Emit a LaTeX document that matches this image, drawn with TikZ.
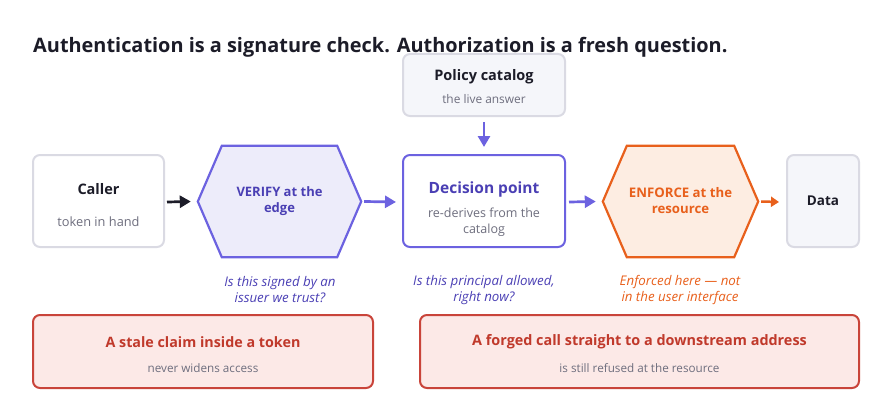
\documentclass[tikz,border=0pt]{standalone}
\usepackage{fontspec}
\setmainfont{Open Sans}
\usetikzlibrary{arrows.meta,calc}
\definecolor{ink}{HTML}{1C1C28}
\definecolor{muted}{HTML}{6E6E7E}
\definecolor{graybd}{HTML}{DADAE3}
\definecolor{grayfill}{HTML}{F5F6FA}
\definecolor{purp}{HTML}{6C62E0}
\definecolor{purptext}{HTML}{4A3FB4}
\definecolor{purpfill}{HTML}{EDECFA}
\definecolor{orng}{HTML}{E8601C}
\definecolor{orngfill}{HTML}{FDEDE2}
\definecolor{redbd}{HTML}{C9443A}
\definecolor{redfill}{HTML}{FCE9E7}
\definecolor{redtext}{HTML}{C0392B}
\tikzset{
  card/.style={draw=graybd, line width=2pt, rounded corners=7pt, fill=white},
  hexbox/.style={minimum width=163pt, minimum height=111pt, inner sep=0pt},
  warnbox/.style={draw=redbd, fill=redfill, line width=2pt, rounded corners=7pt},
  flow/.style={line width=2.7pt, -{Triangle[length=11pt,width=12pt]}},
  ttl/.style={font=\bfseries\fontsize{14.5}{17}\selectfont},
  sub/.style={font=\fontsize{12.8}{16}\selectfont, text=muted, align=center},
  note/.style={font=\itshape\fontsize{13.3}{16}\selectfont, align=center},
}
\begin{document}
\begin{tikzpicture}[x=1pt,y=-1pt]
\useasboundingbox (0,0) rectangle (892,412);
% title
\node[anchor=base west, inner sep=0pt, text=ink, font=\bfseries\fontsize{19.9}{23}\selectfont] (title) at (33,53) {Authentication is a signature check. Authorization is a fresh question.};

% caller
\draw[card] (33,155) rectangle (164,247);
\node[ttl, text=ink] (callerT) at (98.5,189) {Caller};
\node[sub] (callerS) at (98.5,222) {token in hand};
\coordinate (caller) at (164,202);

% verify hexagon
\node[hexbox] (verify) at (279.5,201.5) {};
\fill[purpfill, draw=purp, line width=2.2pt, line join=miter]
  (verify.west) -- ($(verify.north west)+(24,0)$) -- ($(verify.north east)+(-24,0)$) -- (verify.east)
  -- ($(verify.south east)+(-24,0)$) -- ($(verify.south west)+(24,0)$) -- cycle;
\node[font=\bfseries\fontsize{13}{16}\selectfont, text=purptext, align=center] (verifyT) at (279.5,201) {VERIFY at the\\edge};

% decision point
\draw[card, draw=purp] (403,155) rectangle (565,247);
\node[font=\bfseries\fontsize{15.5}{18}\selectfont, text=purptext] (decT) at (484,189) {Decision point};
\node[sub, font=\fontsize{12.5}{16}\selectfont] (decS) at (484,222) {re-derives from the\\catalog};
\coordinate (decW) at (403,202);
\coordinate (decE) at (565,202);
\coordinate (decN) at (484,155);

% policy catalog
\draw[card, fill=grayfill] (403,54) rectangle (565,116);
\node[font=\bfseries\fontsize{14.5}{17}\selectfont, text=ink] (polT) at (484,77) {Policy catalog};
\node[sub, font=\fontsize{11.9}{14}\selectfont] (polS) at (484,99) {the live answer};
\coordinate (polS0) at (484,116);

% enforce hexagon
\node[hexbox, minimum width=155pt] (enforce) at (680.5,201.5) {};
\fill[orngfill, draw=orng, line width=2.2pt, line join=miter]
  (enforce.west) -- ($(enforce.north west)+(24,0)$) -- ($(enforce.north east)+(-24,0)$) -- (enforce.east)
  -- ($(enforce.south east)+(-24,0)$) -- ($(enforce.south west)+(24,0)$) -- cycle;
\node[font=\bfseries\fontsize{13.2}{16}\selectfont, text=orng, align=center] (enforceT) at (680.5,201) {ENFORCE at the\\resource};

% data
\draw[card, fill=grayfill] (787,155) rectangle (859,247);
\node[ttl, font=\bfseries\fontsize{13.5}{16}\selectfont, text=ink] (dataT) at (823,201) {Data};
\coordinate (dataW) at (787,202);

% arrows
\draw[flow, draw=ink, fill=ink] ($(caller)+(3,0)$) -- ($(verify.west)+(-7,0)$);
\draw[flow, draw=purp] ($(verify.east)+(3,0)$) -- ($(decW)+(-7,0)$);
\draw[flow, draw=purp] ($(polS0)+(0,6)$) -- ($(decN)+(0,-8)$);
\draw[flow, draw=purp] ($(decE)+(4,0)$) -- ($(enforce.west)+(-7,0)$);
\draw[flow, draw=orng, line width=2.5pt, -{Triangle[length=8pt,width=10pt]}] ($(enforce.east)+(3,0)$) -- ($(dataW)+(-8,0)$);

% notes
\node[note, text=purptext] (n1) at (280,290) {Is this signed by an\\issuer we trust?};
\node[note, text=purptext] (n2) at (484,290) {Is this principal allowed,\\right now?};
\node[note, text=orng] (n3) at (680,290) {Enforced here — not\\in the user interface};

% warnings
\draw[warnbox] (33,315) rectangle (373,388);
\node[font=\bfseries\fontsize{14.3}{16}\selectfont, text=redtext] (w1T) at (203,342) {A stale claim inside a token};
\node[sub, font=\fontsize{11.7}{13}\selectfont] (w1S) at (203,368) {never widens access};
\draw[warnbox] (420,315) rectangle (859,388);
\node[font=\bfseries\fontsize{14.4}{16}\selectfont, text=redtext] (w2T) at (639.5,342) {A forged call straight to a downstream address};
\node[sub, font=\fontsize{11.7}{13}\selectfont] (w2S) at (639.5,368) {is still refused at the resource};
\end{tikzpicture}
\end{document}
